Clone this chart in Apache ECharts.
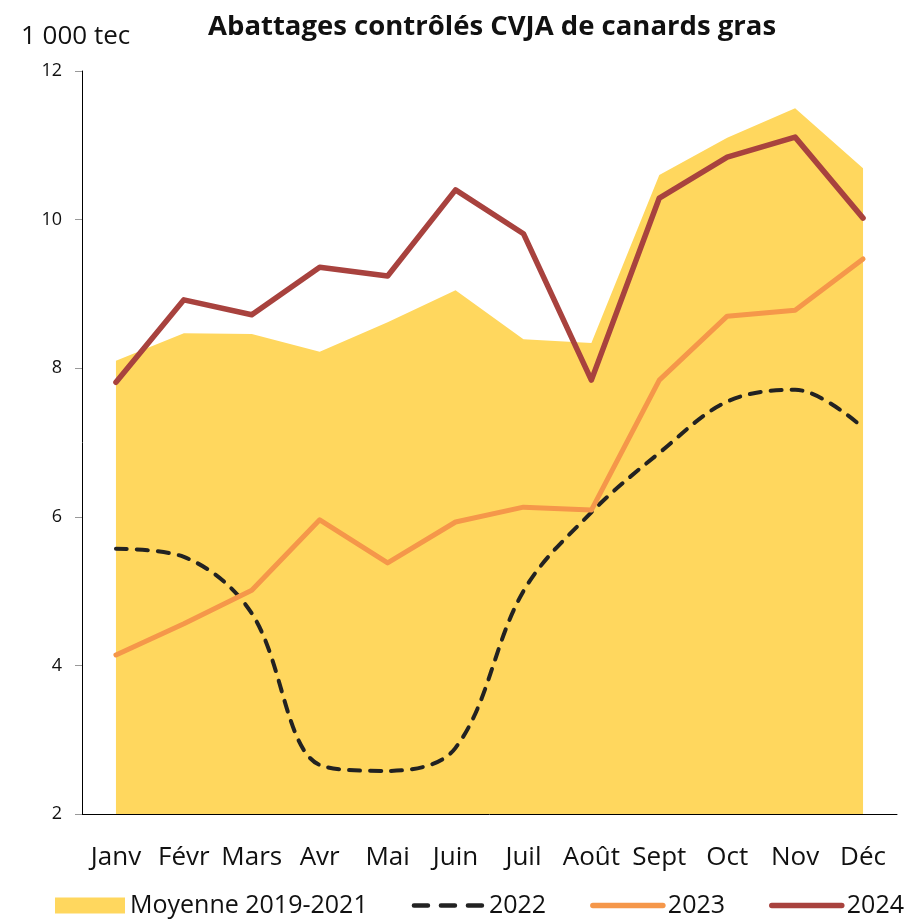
<!DOCTYPE html>
<html>
<head>
<meta charset="utf-8">
<script src="https://cdn.jsdelivr.net/npm/echarts@6/dist/echarts.min.js"></script>
<style>
  html, body { margin: 0; padding: 0; background: #fff; }
  #chart { width: 905px; height: 919px; }
</style>
</head>
<body>
<div id="chart"></div>
<script>
// mois
var mois = ['Janv', 'Févr', 'Mars', 'Avr', 'Mai', 'Juin', 'Juil', 'Août', 'Sept', 'Oct', 'Nov', 'Déc'];
// 1 000 tec
var moyenne = [8.10, 8.47, 8.46, 8.22, 8.62, 9.05, 8.39, 8.34, 10.60, 11.10, 11.50, 10.69];
var an2022 = [5.57, 5.46, 4.70, 2.66, 2.58, 2.89, 5.00, 6.06, 6.86, 7.55, 7.71, 7.20];
var an2023 = [4.14, 4.56, 5.01, 5.96, 5.38, 5.93, 6.13, 6.09, 7.84, 8.70, 8.78, 9.47];
var an2024 = [7.81, 8.92, 8.72, 9.36, 9.24, 10.40, 9.81, 7.84, 10.29, 10.84, 11.11, 10.02];

var police = '"Open Sans", Lato, sans-serif';
// pas de rond dans la légende des courbes
var sansSymbole = { opacity: 0 };

var myChart = echarts.init(document.getElementById('chart'));
var option = {
    animation: false,
    textStyle: { fontFamily: police },
    title: [{
        text: 'Abattages contrôlés CVJA de canards gras',
        left: 203,
        top: 8,
        textStyle: { fontSize: 27.5, fontWeight: 'bold', color: '#111', fontFamily: police }
    }, {
        text: '1 000 tec',
        left: 16,
        top: 19,
        textStyle: { fontSize: 26, fontWeight: 'normal', color: '#111', fontFamily: police }
    }],
    legend: {
        left: 55,
        top: 893,
        width: 1000,
        padding: 0,
        itemWidth: 70,
        itemHeight: 16,
        itemGap: 44,
        textStyle: { fontSize: 25, color: '#111', fontFamily: police },
        data: [
            { name: 'Moyenne 2019-2021', icon: 'rect' },
            { name: '2022', itemStyle: sansSymbole, lineStyle: { width: 4.5, type: [14, 13], cap: 'round' } },
            { name: '2023', itemStyle: sansSymbole, lineStyle: { width: 5.5, cap: 'round' } },
            { name: '2024', itemStyle: sansSymbole, lineStyle: { width: 5.5, cap: 'round' } }
        ]
    },
    grid: { left: 82, right: 8, top: 71, bottom: 105 },
    xAxis: {
        type: 'category',
        data: mois,
        boundaryGap: true,
        axisLine: { lineStyle: { color: '#000', width: 1 } },
        axisTick: { show: false },
        axisLabel: { color: '#111', fontSize: 26, margin: 31, interval: 0, fontFamily: police }
    },
    yAxis: {
        type: 'value',
        min: 2,
        max: 12,
        interval: 2,
        axisLine: { show: true, lineStyle: { color: '#000', width: 1 } },
        axisTick: { show: true, length: 7, lineStyle: { color: '#999' } },
        axisLabel: { color: '#111', fontSize: 18, margin: 20, fontFamily: police },
        splitLine: { show: false }
    },
    series: [{
        name: 'Moyenne 2019-2021',
        type: 'line',
        data: moyenne,
        symbol: 'none',
        lineStyle: { width: 0 },
        itemStyle: { color: '#FFD75E' },
        areaStyle: { color: '#FFD75E', opacity: 1 },
        z: 1
    }, {
        name: '2022',
        type: 'line',
        data: an2022,
        symbol: 'none',
        smooth: 0.35,
        itemStyle: { color: '#222' },
        lineStyle: { color: '#222', width: 4, type: [11, 10], cap: 'round' },
        z: 2
    }, {
        name: '2023',
        type: 'line',
        data: an2023,
        symbol: 'none',
        itemStyle: { color: '#F5974A' },
        lineStyle: { color: '#F5974A', width: 5, cap: 'round', join: 'round' },
        z: 3
    }, {
        name: '2024',
        type: 'line',
        data: an2024,
        symbol: 'none',
        itemStyle: { color: '#A8423E' },
        lineStyle: { color: '#A8423E', width: 5.5, cap: 'round', join: 'round' },
        z: 4
    }]
};
myChart.setOption(option);
</script>
</body>
</html>
